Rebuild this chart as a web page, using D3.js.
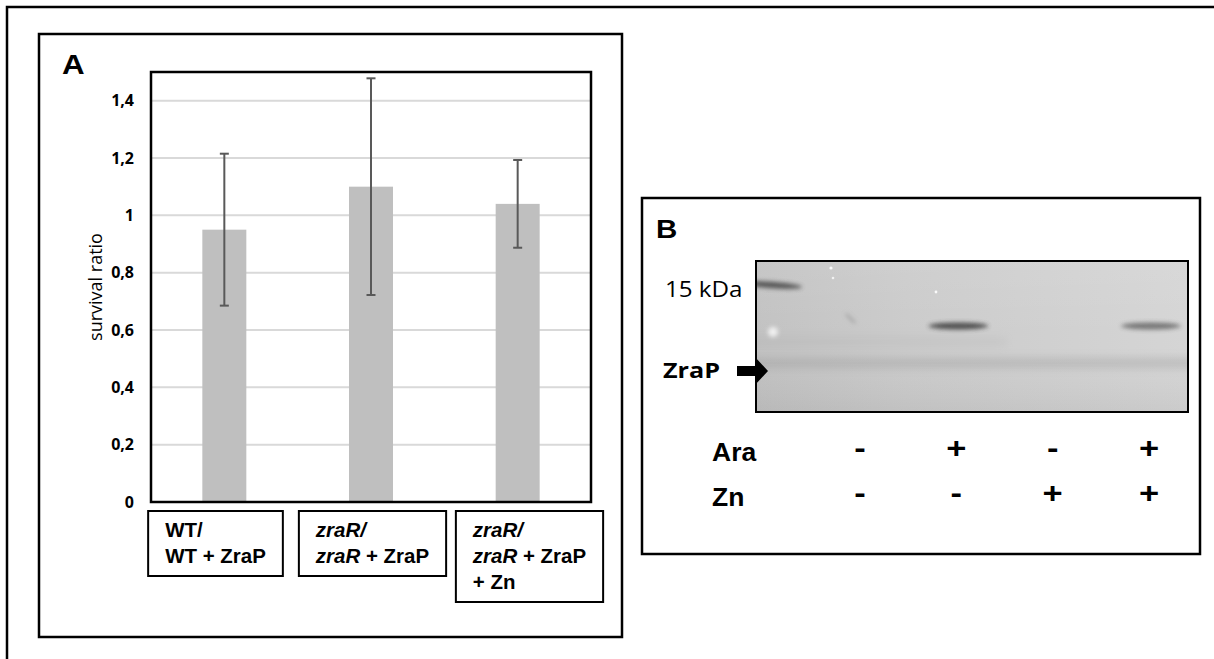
<!DOCTYPE html>
<html>
<head>
<meta charset="utf-8">
<script src="https://cdn.jsdelivr.net/npm/d3@7"></script>
<style>
  body { margin: 0; background: #fff; }
  svg { display: block; }
</style>
</head>
<body>
<script>
const width = 1214;
const height = 659;

// panel A : survival ratio
const categories = ["WT", "zraR", "zraR_Zn"];
const survival = [0.95, 1.10, 1.04];
const survivalErr = [0.265, 0.378, 0.153];
const yTicks = [0, 0.2, 0.4, 0.6, 0.8, 1, 1.2, 1.4];
// each label = lines, each line = [text, italic]
const catLabels = [
  [[["WT/", false]], [["WT + ZraP", false]]],
  [[["zraR/", true]], [["zraR", true], [" + ZraP", false]]],
  [[["zraR/", true]], [["zraR", true], [" + ZraP", false]], [["+ Zn", false]]]
];

// panel B : western blot
const lanes = [1, 2, 3, 4];
const ara = ["-", "+", "-", "+"];
const zn = ["-", "-", "+", "+"];
const bandStrength = [0, 0.85, 0, 0.6];

const arial = "'Liberation Sans', Arial, sans-serif";
const calibri = "'Open Sans', 'Noto Sans', sans-serif";

const svg = d3.select(document.body).append("svg")
  .attr("width", width)
  .attr("height", height);

const defs = svg.append("defs");

// horizontally stretched text, like the source picture
function stext(parent, x, y, sx, txt) {
  return parent.append("text")
    .attr("transform", "translate(" + x + "," + y + ") scale(" + sx + ",1)")
    .text(txt);
}

// outer frame (runs off the right and bottom)
svg.append("rect")
  .attr("x", 7).attr("y", 7)
  .attr("width", 1240).attr("height", 700)
  .attr("fill", "none").attr("stroke", "#000").attr("stroke-width", 2.5);

// ---------------- panel A ----------------
svg.append("rect")
  .attr("x", 39).attr("y", 34)
  .attr("width", 583).attr("height", 603)
  .attr("fill", "none").attr("stroke", "#000").attr("stroke-width", 2.5);

stext(svg, 62, 74, 1.12, "A")
  .attr("font-family", arial).attr("font-weight", "bold").attr("font-size", 28);

const plot = {left: 151, right: 591, top: 72, bottom: 502};

const x = d3.scaleBand()
  .domain(categories)
  .range([plot.left, plot.right])
  .paddingInner(0.7)
  .paddingOuter(0.35);

const y = d3.scaleLinear()
  .domain([0, 1.5])
  .range([plot.bottom, plot.top]);

const comma = d3.formatLocale({decimal: ",", thousands: ".", grouping: [3], currency: ["", ""]});
const fmt = comma.format("~g");

// grid
svg.append("g")
  .selectAll("line")
  .data(yTicks.filter(d => d > 0))
  .join("line")
  .attr("x1", plot.left).attr("x2", plot.right)
  .attr("y1", d => y(d)).attr("y2", d => y(d))
  .attr("stroke", "#d9d9d9").attr("stroke-width", 2);

// bars
svg.append("g")
  .selectAll("rect")
  .data(categories)
  .join("rect")
  .attr("x", d => x(d))
  .attr("width", x.bandwidth())
  .attr("y", (d, i) => y(survival[i]))
  .attr("height", (d, i) => y(0) - y(survival[i]))
  .attr("fill", "#bfbfbf");

// error bars
const eb = svg.append("g")
  .attr("stroke", "#595959").attr("stroke-width", 2)
  .selectAll("g")
  .data(categories)
  .join("g");
eb.append("line")
  .attr("x1", d => x(d) + x.bandwidth() / 2).attr("x2", d => x(d) + x.bandwidth() / 2)
  .attr("y1", (d, i) => y(survival[i] + survivalErr[i]))
  .attr("y2", (d, i) => y(survival[i] - survivalErr[i]));
[1, -1].forEach(s => {
  eb.append("line")
    .attr("x1", d => x(d) + x.bandwidth() / 2 - 4.5)
    .attr("x2", d => x(d) + x.bandwidth() / 2 + 4.5)
    .attr("y1", (d, i) => y(survival[i] + s * survivalErr[i]))
    .attr("y2", (d, i) => y(survival[i] + s * survivalErr[i]));
});

// plot border
svg.append("rect")
  .attr("x", plot.left).attr("y", plot.top)
  .attr("width", plot.right - plot.left).attr("height", plot.bottom - plot.top)
  .attr("fill", "none").attr("stroke", "#000").attr("stroke-width", 2.5);

// y axis
svg.append("g")
  .attr("transform", "translate(" + plot.left + ",0)")
  .call(d3.axisLeft(y).tickValues(yTicks).tickFormat(fmt).tickSize(0).tickPadding(17))
  .call(g => g.select(".domain").remove())
  .call(g => g.selectAll("text")
    .attr("font-family", calibri)
    .attr("font-weight", "bold")
    .attr("font-size", 16)
    .attr("fill", "#000"));

svg.append("text")
  .attr("transform", "translate(95," + ((plot.top + plot.bottom) / 2) + ") rotate(-90)")
  .attr("text-anchor", "middle")
  .attr("dominant-baseline", "central")
  .attr("font-family", calibri)
  .attr("font-size", 18)
  .text("survival ratio");

// category boxes under the plot
const labelX = d3.scaleBand().domain(categories).range([137, 608]);
const lineH = 26;
const boxTop = 511;
const sxLab = 1.05;

catLabels.forEach((lines, i) => {
  const g = svg.append("g");
  let maxW = 0;
  const texts = lines.map((parts, j) => {
    const t = g.append("text")
      .attr("font-family", arial)
      .attr("font-weight", "bold")
      .attr("font-size", 19.5);
    parts.forEach(p => {
      t.append("tspan").attr("font-style", p[1] ? "italic" : "normal").text(p[0]);
    });
    maxW = Math.max(maxW, t.node().getComputedTextLength() * sxLab);
    return t;
  });
  const bw = maxW + 34;
  const cx = labelX(categories[i]) + labelX.bandwidth() / 2;
  const x0 = cx - bw / 2;
  texts.forEach((t, j) => {
    t.attr("transform", "translate(" + (x0 + 17) + "," + (boxTop + lineH * (j + 1)) + ") scale(" + sxLab + ",1)");
  });
  g.insert("rect", "text")
    .attr("x", x0).attr("y", boxTop)
    .attr("width", bw).attr("height", 13 + lines.length * lineH)
    .attr("fill", "#fff").attr("stroke", "#000").attr("stroke-width", 2);
});

// ---------------- panel B ----------------
svg.append("rect")
  .attr("x", 642).attr("y", 198)
  .attr("width", 558).attr("height", 356)
  .attr("fill", "none").attr("stroke", "#000").attr("stroke-width", 2.5);

stext(svg, 656, 238, 1.18, "B")
  .attr("font-family", arial).attr("font-weight", "bold").attr("font-size", 25);

const gel = {x: 756, y: 261, w: 432, h: 151};
const laneX = d3.scalePoint().domain(lanes).range([860, 1149]);

const grad = defs.append("linearGradient").attr("id", "gelbg");
grad.append("stop").attr("offset", "0").attr("stop-color", "#c2c2c2");
grad.append("stop").attr("offset", "0.35").attr("stop-color", "#cbcbcb");
grad.append("stop").attr("offset", "1").attr("stop-color", "#d5d5d5");

const vgrad = defs.append("linearGradient").attr("id", "gelv")
  .attr("x1", 0).attr("x2", 0).attr("y1", 0).attr("y2", 1);
vgrad.append("stop").attr("offset", "0").attr("stop-color", "#fff").attr("stop-opacity", 0.08);
vgrad.append("stop").attr("offset", "0.5").attr("stop-color", "#fff").attr("stop-opacity", 0);
vgrad.append("stop").attr("offset", "1").attr("stop-color", "#000").attr("stop-opacity", 0.05);

defs.append("clipPath").attr("id", "gelclip")
  .append("rect").attr("x", gel.x).attr("y", gel.y).attr("width", gel.w).attr("height", gel.h);
defs.append("filter").attr("id", "blur2").attr("x", "-50%").attr("y", "-200%").attr("width", "200%").attr("height", "500%")
  .append("feGaussianBlur").attr("stdDeviation", 2.2);
defs.append("filter").attr("id", "blur4").attr("x", "-50%").attr("y", "-200%").attr("width", "200%").attr("height", "500%")
  .append("feGaussianBlur").attr("stdDeviation", 4);

const gg = svg.append("g").attr("clip-path", "url(#gelclip)");
gg.append("rect").attr("x", gel.x).attr("y", gel.y).attr("width", gel.w).attr("height", gel.h)
  .attr("fill", "url(#gelbg)");
gg.append("rect").attr("x", gel.x).attr("y", gel.y).attr("width", gel.w).attr("height", gel.h)
  .attr("fill", "url(#gelv)");
// darker smear across the lower part
gg.append("rect").attr("x", gel.x - 10).attr("y", 358).attr("width", gel.w + 20).attr("height", 10)
  .attr("fill", "#8a8a8a").attr("opacity", 0.3).attr("filter", "url(#blur4)");
gg.append("rect").attr("x", gel.x - 10).attr("y", 338).attr("width", 260).attr("height", 8)
  .attr("fill", "#9a9a9a").attr("opacity", 0.15).attr("filter", "url(#blur4)");
// 15 kDa marker
gg.append("ellipse").attr("cx", 772).attr("cy", 285).attr("rx", 30).attr("ry", 3.2)
  .attr("transform", "rotate(4,772,285)")
  .attr("fill", "#3a3a3a").attr("opacity", 0.8).attr("filter", "url(#blur2)");
// light spots
gg.append("circle").attr("cx", 773).attr("cy", 332).attr("r", 5)
  .attr("fill", "#f0f0f0").attr("filter", "url(#blur2)");
gg.append("circle").attr("cx", 831).attr("cy", 268).attr("r", 1.6).attr("fill", "#fafafa");
gg.append("circle").attr("cx", 833).attr("cy", 278).attr("r", 1.3).attr("fill", "#f2f2f2");
gg.append("circle").attr("cx", 936).attr("cy", 292).attr("r", 1.4).attr("fill", "#fafafa");
gg.append("line").attr("x1", 846).attr("y1", 314).attr("x2", 855).attr("y2", 323)
  .attr("stroke", "#8a8a8a").attr("stroke-width", 1.5).attr("filter", "url(#blur2)");
// ZraP bands
gg.selectAll("ellipse.band")
  .data(lanes)
  .join("ellipse")
  .attr("class", "band")
  .attr("cx", d => laneX(d) + 2)
  .attr("cy", 326)
  .attr("rx", 30)
  .attr("ry", 3.4)
  .attr("fill", "#3a3a3a")
  .attr("opacity", (d, i) => bandStrength[i])
  .attr("filter", "url(#blur2)");

svg.append("rect").attr("x", gel.x).attr("y", gel.y).attr("width", gel.w).attr("height", gel.h)
  .attr("fill", "none").attr("stroke", "#000").attr("stroke-width", 2);

stext(svg, 665, 297, 1.15, "15 kDa")
  .attr("font-family", calibri).attr("font-size", 21);
stext(svg, 663, 378, 1.2, "ZraP")
  .attr("font-family", calibri).attr("font-weight", "bold").attr("font-size", 21);

// arrow
svg.append("path")
  .attr("d", "M737,366H755V357L768,371L755,385V376H737Z")
  .attr("fill", "#000");

// condition table
const rows = [["Ara", ara, 461], ["Zn", zn, 506]];
rows.forEach(r => {
  stext(svg, 712, r[2], 1.06, r[0])
    .attr("font-family", arial).attr("font-weight", "bold").attr("font-size", 25);
  svg.append("g")
    .selectAll("text")
    .data(lanes)
    .join("text")
    .attr("transform", d => "translate(" + laneX(d) + "," + (r[2] - 3) + ") scale(1.15,1)")
    .attr("text-anchor", "middle")
    .attr("font-family", arial).attr("font-weight", "bold").attr("font-size", 30)
    .text((d, i) => r[1][i]);
});
</script>
</body>
</html>
